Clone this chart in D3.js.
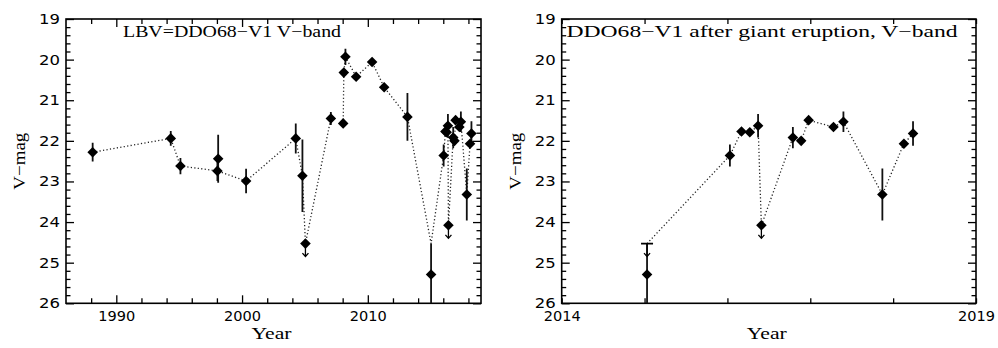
<!DOCTYPE html>
<html><head><meta charset="utf-8">
<script src="https://cdn.jsdelivr.net/npm/d3@7"></script>
<style>
html,body{margin:0;padding:0;background:#fff;}
svg{display:block;}
</style></head>
<body>
<svg id="chart" width="998" height="348"></svg>
<script>
// ---- data ----
const years = [1988.12,1994.33,1995.10,1998.04,1998.10,2000.32,2004.27,2004.80,2005.04,2007.06,
  2008.04,2008.09,2008.22,2009.07,2010.34,2011.30,2013.15,2015.03,2015.03,2016.03,
  2016.17,2016.27,2016.37,2016.41,2016.79,2016.89,2016.98,2017.28,2017.40,2017.87,
  2018.13,2018.24];
const mags = [22.28,21.94,22.62,22.74,22.44,22.99,21.94,22.86,24.53,21.45,
  21.57,20.32,19.93,20.42,20.06,20.68,21.41,24.53,25.29,22.36,
  21.77,21.79,21.63,24.08,21.92,22.00,21.49,21.66,21.53,23.32,
  22.07,21.82];
const errs = [0.23,0.18,0.20,0.25,0.59,0.30,0.37,0.89,0,0.16,
  0.06,0.06,0.20,0.06,0.06,0.06,0.59,0,0.76,0.27,
  0.06,0.06,0.29,0,0.26,0.06,0.06,0.06,0.25,0.64,
  0.06,0.30];
// kind: "pt" = measurement, "ul" = upper limit (diamond + arrow), "ulcap" = upper limit bar + arrow
const kinds = ["pt","pt","pt","pt","pt","pt","pt","pt","ul","pt",
  "pt","pt","pt","pt","pt","pt","pt","ulcap","pt","pt",
  "pt","pt","pt","ul","pt","pt","pt","pt","pt","pt",
  "pt","pt"];
// dotted-line segment id (0 = not joined)
const segs = [1,1,1,1,0,1,1,1,1,1,
  2,2,2,2,2,2,2,2,0,2,
  2,2,2,2,2,2,2,2,2,2,
  2,2];
const leftTitle = "LBV=DDO68\u2212V1 V\u2212band";
const rightTitle = "DDO68\u2212V1 after giant eruption, V\u2212band";
const yLabel = "V\u2212mag";
const xLabel = "Year";
const yMajor = [19,20,21,22,23,24,25,26];
const leftXMajor = [1990,2000,2010];
const rightXTicks = [2014,2015,2016,2017,2018,2019];

const data = years.map((y,i)=>({year:y, mag:mags[i], err:errs[i], kind:kinds[i], seg:segs[i], i}));

const svg = d3.select("#chart");
const yTop = 19, yBottom = 303.3;

const yMinor = d3.range(19, 26.001, 0.2).map(v=>+v.toFixed(1)).filter(v=>Math.abs(v-Math.round(v))>0.01);

function panel(cfg){
  const g = svg.append("g");
  const x = d3.scaleLinear().domain(cfg.domain).range([cfg.x0, cfg.x1]);
  const y = d3.scaleLinear().domain([19,26]).range([yTop, yBottom]);
  const clipId = "clip"+cfg.id;
  svg.append("clipPath").attr("id", clipId).append("rect")
    .attr("x", cfg.x0).attr("y", yTop).attr("width", cfg.x1-cfg.x0).attr("height", yBottom-yTop);

  const axStyle = sel => { sel.select(".domain").remove(); sel.selectAll("line").attr("stroke","#000").attr("stroke-width",1.3); };

  g.append("g").attr("transform",`translate(${cfg.x0},0)`)
    .call(d3.axisLeft(y).tickValues(yMajor).tickSize(-8).tickPadding(6).tickFormat(d3.format("d")))
    .call(axStyle)
    .call(s=>s.selectAll("text").attr("font-family","DejaVu Sans, sans-serif").attr("font-size",14)
      .attr("fill","#000").attr("textLength",21).attr("lengthAdjust","spacingAndGlyphs"));
  g.append("g").attr("transform",`translate(${cfg.x0},0)`)
    .call(d3.axisLeft(y).tickValues(yMinor).tickSize(-4.5).tickFormat("")).call(axStyle);
  g.append("g").attr("transform",`translate(${cfg.x1},0)`)
    .call(d3.axisRight(y).tickValues(yMajor).tickSize(-8).tickFormat("")).call(axStyle);
  g.append("g").attr("transform",`translate(${cfg.x1},0)`)
    .call(d3.axisRight(y).tickValues(yMinor).tickSize(-4.5).tickFormat("")).call(axStyle);

  const xb = g.append("g").attr("transform",`translate(0,${yBottom})`)
    .call(d3.axisBottom(x).tickValues(cfg.xMajor).tickSize(-cfg.majorLen).tickPadding(8).tickFormat(cfg.xFormat))
    .call(axStyle);
  xb.selectAll("text").attr("font-family","DejaVu Sans, sans-serif").attr("font-size",14).attr("fill","#000")
    .filter(function(){return this.textContent.length>0;})
    .attr("textLength",37).attr("lengthAdjust","spacingAndGlyphs");
  g.append("g").attr("transform",`translate(0,${yTop})`)
    .call(d3.axisTop(x).tickValues(cfg.xMajor).tickSize(-cfg.majorLen).tickFormat("")).call(axStyle);
  if (cfg.xMinor.length){
    g.append("g").attr("transform",`translate(0,${yBottom})`)
      .call(d3.axisBottom(x).tickValues(cfg.xMinor).tickSize(-5).tickFormat("")).call(axStyle);
    g.append("g").attr("transform",`translate(0,${yTop})`)
      .call(d3.axisTop(x).tickValues(cfg.xMinor).tickSize(-5).tickFormat("")).call(axStyle);
  }

  g.append("rect").attr("x",cfg.x0).attr("y",yTop).attr("width",cfg.x1-cfg.x0).attr("height",yBottom-yTop)
    .attr("fill","none").attr("stroke","#000").attr("stroke-width",1.6);

  const pts = data.filter(d=>d.year>=cfg.domain[0] && d.year<=cfg.domain[1]);
  const marks = g.append("g").attr("clip-path",`url(#${clipId})`);

  const line = d3.line().x(d=>x(d.year)).y(d=>y(d.mag));
  const groups = d3.groups(pts.filter(d=>d.seg>0), d=>d.seg);
  groups.forEach(([k, arr])=>{
    marks.append("path").attr("d", line(arr)).attr("fill","none")
      .attr("stroke","#222").attr("stroke-width",1.3).attr("stroke-dasharray","1.2,2.3");
  });

  marks.selectAll("line.err").data(pts.filter(d=>d.kind==="pt" && d.err>0)).join("line")
    .attr("x1",d=>x(d.year)).attr("x2",d=>x(d.year))
    .attr("y1",d=>y(d.mag-d.err)).attr("y2",d=>y(d.mag+d.err))
    .attr("stroke","#111").attr("stroke-width",1.8);

  const caps = pts.filter(d=>d.kind==="ulcap" && cfg.showCaps);
  marks.selectAll("line.cap").data(caps).join("line")
    .attr("x1",d=>x(d.year)-6).attr("x2",d=>x(d.year)+6)
    .attr("y1",d=>y(d.mag)).attr("y2",d=>y(d.mag)).attr("stroke","#000").attr("stroke-width",1.6);

  const uls = pts.filter(d=>d.kind==="ul" || (d.kind==="ulcap" && cfg.showCaps));
  marks.selectAll("path.arrow").data(uls).join("path")
    .attr("d", d=>{ const cx=x(d.year), cy=y(d.mag);
      return `M${cx},${cy} L${cx},${cy+13} M${cx-3},${cy+9.5} L${cx},${cy+13} L${cx+3},${cy+9.5}`; })
    .attr("fill","none").attr("stroke","#000").attr("stroke-width",1.3);

  const sym = d3.symbol().type(d3.symbolSquare).size(56);
  marks.selectAll("path.dia").data(pts.filter(d=>d.kind==="pt"||d.kind==="ul")).join("path")
    .attr("d", sym).attr("transform", d=>`translate(${x(d.year)},${y(d.mag)}) rotate(45)`)
    .attr("fill","#000");

  g.append("text").attr("x",cfg.titleX).attr("y",37).text(cfg.title)
    .attr("font-family","Liberation Serif, serif").attr("font-size",16).attr("fill","#000")
    .attr("textLength",cfg.titleLen).attr("lengthAdjust","spacingAndGlyphs");
  g.append("text").attr("x",(cfg.x0+cfg.x1)/2 - 2).attr("y",339).attr("text-anchor","middle").text(xLabel)
    .attr("font-family","Liberation Serif, serif").attr("font-size",17).attr("fill","#000")
    .attr("textLength",40).attr("lengthAdjust","spacingAndGlyphs");
  g.append("text").attr("transform",`translate(${cfg.x0-41},${(yTop+yBottom)/2}) rotate(-90)`)
    .attr("text-anchor","middle").text(yLabel)
    .attr("font-family","Liberation Serif, serif").attr("font-size",17).attr("fill","#000")
    .attr("textLength",57).attr("lengthAdjust","spacingAndGlyphs");
}

panel({id:"L", x0:66, x1:481, domain:[1986,2019], xMajor:leftXMajor,
  xMinor:d3.range(1988,2019,2).filter(v=>v%10!==0), majorLen:8, xFormat:d3.format("d"),
  title:leftTitle, titleX:123, titleLen:218, showCaps:false});
panel({id:"R", x0:561.7, x1:976, domain:[2014,2019], xMajor:rightXTicks,
  xMinor:[], majorLen:5, xFormat:d=>(d===2014||d===2019)?String(d):"",
  title:rightTitle, titleX:566.5, titleLen:391, showCaps:true});
</script>
</body></html>
